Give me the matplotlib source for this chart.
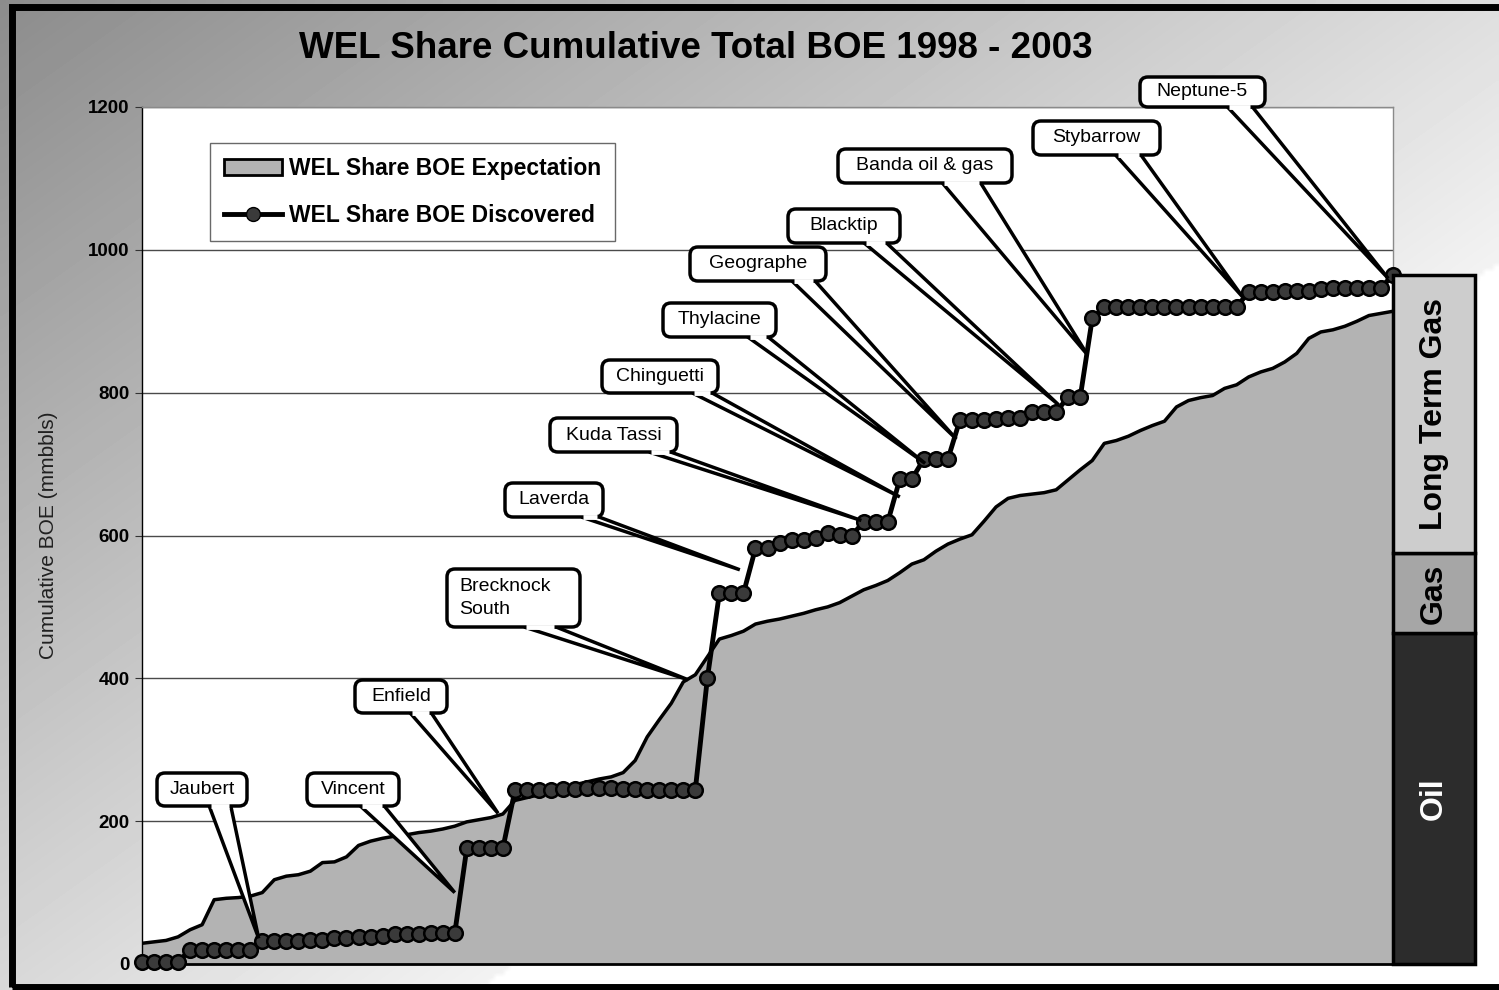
import numpy as np
import matplotlib
matplotlib.use('Agg')
import matplotlib.pyplot as plt
from matplotlib.patches import FancyBboxPatch, Polygon, Rectangle, Patch
from matplotlib.lines import Line2D

plt.rcParams['font.family'] = ['Liberation Sans', 'DejaVu Sans']

W, H = 1499, 990

# expected cumulative BOE (area) - one value per period
expectation = [29, 31, 33, 38, 48, 55, 90, 92, 93, 95,
               100, 118, 123, 125, 130, 142, 143, 150, 166, 172,
               176, 179, 181, 184, 186, 189, 193, 199, 202, 205,
               210, 229, 233, 237, 241, 246, 251, 255, 259, 262,
               268, 285, 318, 342, 365, 395, 405, 430, 455, 460,
               466, 476, 480, 483, 487, 491, 496, 500, 506, 515,
               524, 530, 537, 548, 560, 566, 578, 588, 595, 601,
               620, 640, 652, 656, 658, 660, 664, 678, 692, 705,
               729, 733, 739, 747, 754, 760, 780, 789, 793, 796,
               806, 811, 822, 829, 834, 843, 855, 876, 885, 888,
               893, 900, 908, 911, 914]

# discovered cumulative BOE (line)
discovered = [3, 3, 3, 3, 20, 20, 20, 20, 20, 20,
              32, 32, 32, 32, 33, 33, 37, 37, 38, 38,
              39, 42, 42, 42, 43, 43, 43, 162, 162, 162,
              162, 243, 243, 243, 243, 245, 245, 246, 246, 246,
              245, 245, 244, 244, 244, 244, 244, 400, 519, 519,
              519, 582, 583, 590, 594, 593, 597, 603, 601, 600,
              619, 619, 619, 679, 679, 707, 707, 707, 762, 762,
              762, 763, 764, 765, 773, 773, 773, 794, 794, 904,
              920, 920, 920, 920, 920, 920, 920, 920, 920, 920,
              920, 920, 941, 941, 941, 942, 942, 943, 945, 946,
              946, 946, 946, 947, 965]

# discoveries labelled with callouts: name, (period, BOE) the pointer hits
discovery_names = ['Jaubert', 'Vincent', 'Enfield', 'Brecknock\nSouth', 'Laverda',
                   'Kuda Tassi', 'Chinguetti', 'Thylacine', 'Geographe', 'Blacktip',
                   'Banda oil & gas', 'Stybarrow', 'Neptune-5']
discovery_periods = [9.7, 26.0, 29.6, 45.4, 49.7, 59.8, 63.0, 65.1, 67.7, 76.2, 78.6, 91.5, 103.6]
discovery_boe = [36, 100, 211, 398, 552, 621, 654, 701, 735, 783, 853, 934, 960]

# reserve split bar
reserve_labels = ['Oil', 'Gas', 'Long Term Gas']
reserve_values = [463, 112, 390]
reserve_colors = ['#2c2c2c', '#a6a6a6', '#cdcdcd']
reserve_text = ['white', 'black', 'black']

# callout box layout in pixels: x0, y0, x1, y1, wedge base fractions
callout_boxes = [(157, 773, 247, 806, 0.58, 0.82),
                 (307, 773, 399, 806, 0.58, 0.84),
                 (355, 680, 447, 713, 0.60, 0.83),
                 (447, 569, 580, 627, 0.58, 0.82),
                 (505, 483, 603, 517, 0.78, 0.96),
                 (550, 418, 677, 452, 0.78, 0.95),
                 (602, 360, 718, 393, 0.78, 0.95),
                 (663, 303, 776, 337, 0.75, 0.93),
                 (690, 247, 826, 281, 0.75, 0.92),
                 (788, 209, 900, 243, 0.68, 0.88),
                 (838, 149, 1012, 183, 0.60, 0.82),
                 (1033, 121, 1160, 155, 0.65, 0.85),
                 (1140, 77, 1265, 107, 0.70, 0.90)]

fig = plt.figure(figsize=(W / 100, H / 100), dpi=100)

# gradient background
bg = fig.add_axes([0, 0, 1, 1], zorder=-10)
yy, xx = np.mgrid[0:H:5, 0:W:5]
s = ((xx - 480) * 725 + (yy - 985) * 1019) / np.hypot(725, 1019)
shade = np.where(s < 0, 0.95 + s / 1081 * 0.40, 1.0)
bg.imshow(shade, cmap='gray', vmin=0, vmax=1, extent=(0, W, H, 0), aspect='auto', interpolation='bilinear')
bg.set_xlim(0, W)
bg.set_ylim(H, 0)
bg.axis('off')

ax = fig.add_axes([142 / W, 26 / H, 1251 / W, 857 / H], zorder=1)
ax.set_facecolor('white')
x = np.arange(len(expectation))
ax.set_xlim(0, len(expectation) - 1)
ax.set_ylim(0, 1200)
ax.yaxis.grid(True, color='#4a4a4a', lw=1)
ax.set_axisbelow(True)
ax.fill_between(x, expectation, color='#b3b3b3', lw=0, zorder=2)
ax.plot(x, expectation, color='black', lw=2.5, zorder=3)
ax.plot(x, discovered, '-o', color='black', lw=3.5, ms=10.5, mfc='#3a3a3a', mec='black', mew=1.8,
        clip_on=False, zorder=5)

ax.set_xticks([])
ax.set_yticks(range(0, 1201, 200))
ax.set_yticklabels([str(v) for v in range(0, 1201, 200)], fontsize=13.5, fontweight='bold')
ax.tick_params(axis='y', direction='out', length=5, pad=4, color='#333333')
ax.set_ylabel('Cumulative BOE (mmbbls)', fontsize=15, color='#202020')
ax.yaxis.set_label_coords(-0.067, 0.5)
for side in ['top', 'right']:
    ax.spines[side].set_color('#8a8a8a')
    ax.spines[side].set_linewidth(1)
ax.spines['left'].set_linewidth(1)
ax.spines['bottom'].set_linewidth(2)

handles = [Patch(facecolor='#b3b3b3', edgecolor='black', lw=2),
           Line2D([0], [0], color='black', lw=3.5, marker='o', ms=10, mfc='#3a3a3a', mec='black')]
leg = ax.legend(handles, ['WEL Share BOE Expectation', 'WEL Share BOE Discovered'],
                loc='upper left', bbox_to_anchor=(210 / W, 1 - 143 / H), bbox_transform=fig.transFigure,
                prop={'size': 16.5, 'weight': 'bold'}, frameon=True, fancybox=False,
                handlelength=2.55, handletextpad=0.3, labelspacing=1.05, borderpad=0.6, borderaxespad=0)
leg.get_frame().set_edgecolor('#444444')
leg.get_frame().set_linewidth(1)

# reserve split bar on the right
axb = fig.add_axes([1393 / W, 26 / H, 82 / W, 857 / H], zorder=2)
axb.set_xlim(0, 1)
axb.set_ylim(0, 1200)
axb.axis('off')
bottom = 0
for lab, val, col, tc in zip(reserve_labels, reserve_values, reserve_colors, reserve_text):
    axb.bar(0.5, val, width=1, bottom=bottom, color=col, edgecolor='black', lw=2.5, clip_on=False)
    axb.text(0.5, bottom + val / 2, lab, rotation=90, ha='center', va='center',
             fontsize=23, fontweight='bold', color=tc)
    bottom += val

fig.text(696 / W, 1 - 49 / H, 'WEL Share Cumulative Total BOE 1998 - 2003',
         ha='center', va='center', fontsize=26.5, fontweight='bold')

# callouts drawn in pixel space over everything
ov = fig.add_axes([0, 0, 1, 1], zorder=10)
ov.set_xlim(0, W)
ov.set_ylim(H, 0)
ov.axis('off')
ov.patch.set_alpha(0)

fig.canvas.draw()
for name, per, boe, box in zip(discovery_names, discovery_periods, discovery_boe, callout_boxes):
    x0, y0, x1, y1, f0, f1 = box
    tip = ov.transData.inverted().transform(ax.transData.transform((per, boe)))
    b0 = x0 + f0 * (x1 - x0)
    b1 = x0 + f1 * (x1 - x0)
    ov.add_patch(Polygon([(b0, y1), (b1, y1), tuple(tip)], closed=True, fc='white', ec='black',
                         lw=2.5, joinstyle='miter'))
    ov.add_patch(FancyBboxPatch((x0, y0), x1 - x0, y1 - y0, boxstyle='round,pad=0,rounding_size=8',
                                fc='white', ec='black', lw=2.5))
    ov.plot([b0 + 2, b1 - 2], [y1, y1], color='white', lw=3.5, solid_capstyle='butt')
    if '\n' in name:
        ov.text(x0 + 12, (y0 + y1) / 2, name, ha='left', va='center', fontsize=14, linespacing=1.45)
    else:
        ov.text((x0 + x1) / 2, (y0 + y1) / 2, name, ha='center', va='center', fontsize=14)

# outer frame
fig.patches.append(Rectangle((12 / W, 1 - 987 / H), 1.0, (987 - 7) / H, transform=fig.transFigure,
                             fill=False, ec='black', lw=5))

fig.savefig('out.png', dpi=100)
